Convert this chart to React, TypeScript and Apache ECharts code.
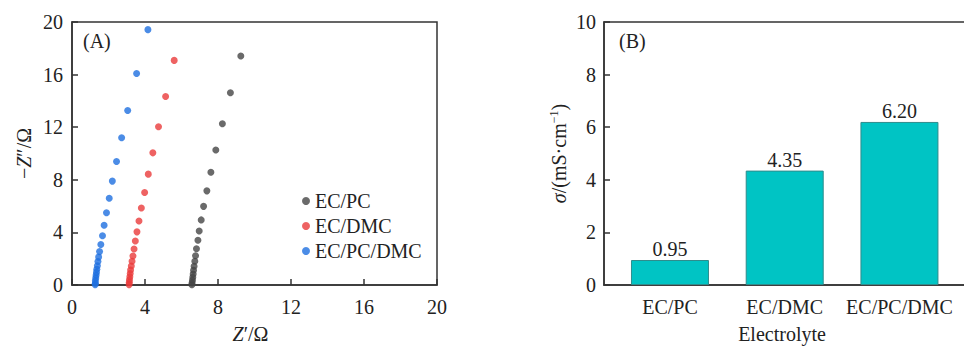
import React, { useEffect, useRef } from "react";
import * as echarts from "echarts";

const FONT = "Liberation Serif";
const TEXT = "#222";
const AXIS = "#333";

const seriesNames = ["EC/PC", "EC/DMC", "EC/PC/DMC"];
const seriesColors = ["#454545", "#ea3b3b", "#1e6fe0"];

const ecPc: number[][] = [
  [9.25, 17.42], [8.68, 14.62], [8.24, 12.26], [7.88, 10.26], [7.61, 8.58],
  [7.39, 7.16], [7.21, 5.98], [7.08, 4.95], [6.97, 4.11], [6.9, 3.4],
  [6.82, 2.76], [6.77, 2.23], [6.73, 1.8], [6.69, 1.42], [6.66, 1.12],
  [6.64, 0.84], [6.62, 0.59], [6.6, 0.36], [6.58, 0.16], [6.57, 0.02],
];
const ecDmc: number[][] = [
  [5.6, 17.08], [5.13, 14.34], [4.74, 12.03], [4.43, 10.05], [4.18, 8.43],
  [3.98, 7.03], [3.8, 5.86], [3.67, 4.87], [3.56, 4.04], [3.47, 3.35],
  [3.4, 2.74], [3.34, 2.21], [3.29, 1.8], [3.25, 1.45], [3.21, 1.14],
  [3.19, 0.87], [3.17, 0.63], [3.15, 0.4], [3.14, 0.2], [3.13, 0.03],
];
const ecPcDmc: number[][] = [
  [4.16, 19.42], [3.54, 16.09], [3.05, 13.27], [2.72, 11.2], [2.44, 9.39],
  [2.21, 7.9], [2.04, 6.6], [1.89, 5.5], [1.76, 4.54], [1.67, 3.75],
  [1.58, 3.08], [1.51, 2.54], [1.46, 2.12], [1.42, 1.78], [1.39, 1.47],
  [1.36, 1.2], [1.34, 0.96], [1.32, 0.74], [1.3, 0.53], [1.28, 0.33],
  [1.28, 0.14], [1.27, 0.03],
];
const scatterData = [ecPc, ecDmc, ecPcDmc];

const electrolytes = ["EC/PC", "EC/DMC", "EC/PC/DMC"];
const conductivity = [0.95, 4.35, 6.2];
const barColor = "#00c4c4";
const barBorder = "#2f8c8c";

export default function App() {
  const ref = useRef<HTMLDivElement>(null);
  useEffect(() => {
    document.body.style.margin = "0";
    if (!ref.current) return;
    const chart = echarts.init(ref.current, null, { renderer: "svg" });
    const base = { color: TEXT, fontFamily: FONT, fontSize: 20, fontWeight: "normal", fontStyle: "normal" };
    const rich = {
      i: { ...base, fontStyle: "italic" },
      sup: { ...base, fontSize: 12, verticalAlign: "top", padding: [0, 0, 10, 0] },
    };
    const axisCommon = {
      axisLine: { show: true, onZero: false, lineStyle: { color: AXIS, width: 1.5 } },
      splitLine: { show: false },
    };
    const tick = { show: true, inside: true, length: 6, lineStyle: { color: AXIS, width: 1.5 } };
    chart.setOption({
      animation: false,
      textStyle: { fontFamily: FONT, fontSize: 20, color: TEXT },
      grid: [
        {
          left: 72, top: 22, width: 365, height: 263, show: true, borderColor: AXIS, borderWidth: 1.5,
          containLabel: false, outerBoundsMode: "none",
        },
        {
          left: 604, top: 22, width: 362, height: 263, show: true, borderColor: AXIS, borderWidth: 1.5,
          containLabel: false, outerBoundsMode: "none",
        },
      ],
      xAxis: [
        {
          ...axisCommon,
          type: "value",
          gridIndex: 0,
          min: 0,
          max: 20,
          interval: 4,
          axisTick: tick,
          axisLabel: { ...base, margin: 12 },
          name: "{i|Z}′/Ω",
          nameLocation: "middle",
          nameGap: 39,
          nameTextStyle: { ...base, lineHeight: 20, rich: { i: { ...rich.i, lineHeight: 20 } }, padding: [0, 8, 0, 0] },
        },
        {
          ...axisCommon,
          type: "value",
          gridIndex: 1,
          min: 0.425,
          max: 3.58,
          axisTick: { show: false },
          axisLabel: {
            ...base,
            margin: 12,
            customValues: [1, 2, 3],
            formatter: (v: number) => electrolytes[Math.round(v) - 1] ?? "",
          },
          name: "Electrolyte",
          nameLocation: "middle",
          nameGap: 39,
          nameTextStyle: { ...base, lineHeight: 20, padding: [0, 6, 0, 0] },
        },
      ],
      yAxis: [
        {
          ...axisCommon,
          type: "value",
          gridIndex: 0,
          min: 0,
          max: 20,
          interval: 4,
          axisTick: tick,
          axisLabel: { ...base, margin: 9 },
          name: "−{i|Z}″/Ω",
          nameLocation: "middle",
          nameGap: 38,
          nameTextStyle: { ...base, rich },
        },
        {
          ...axisCommon,
          type: "value",
          gridIndex: 1,
          min: 0,
          max: 10,
          interval: 2,
          axisTick: tick,
          axisLabel: { ...base, margin: 8 },
          name: "{i|σ}/(mS·cm{sup|−1})",
          nameLocation: "middle",
          nameGap: 34,
          nameTextStyle: { ...base, rich },
        },
      ],
      legend: {
        orient: "vertical",
        left: 297,
        top: 186,
        itemWidth: 8,
        itemHeight: 8,
        itemGap: 5,
        icon: "circle",
        data: seriesNames,
        textStyle: { ...base, lineHeight: 20 },
      },
      graphic: [
        { type: "text", left: 83, top: 31, style: { text: "(A)", font: `20px ${FONT}`, fill: TEXT } },
        { type: "text", left: 619, top: 31, style: { text: "(B)", font: `20px ${FONT}`, fill: TEXT } },
      ],
      series: [
        ...seriesNames.map((n, i) => ({
          name: n,
          type: "scatter",
          xAxisIndex: 0,
          yAxisIndex: 0,
          symbolSize: 7,
          itemStyle: { color: seriesColors[i] },
          data: scatterData[i],
        })),
        {
          name: "conductivity",
          type: "bar",
          xAxisIndex: 1,
          yAxisIndex: 1,
          barWidth: 78,
          itemStyle: { color: barColor, borderColor: barBorder, borderWidth: 1 },
          label: {
            show: true,
            position: "top",
            distance: 1,
            ...base,
            formatter: (p: any) => Number(p.value[1]).toFixed(2),
          },
          data: conductivity.map((v, i) => [i + 1, v]),
        },
      ],
    });
    return () => chart.dispose();
  }, []);
  return <div ref={ref} style={{ width: 964, height: 346 }} />;
}
